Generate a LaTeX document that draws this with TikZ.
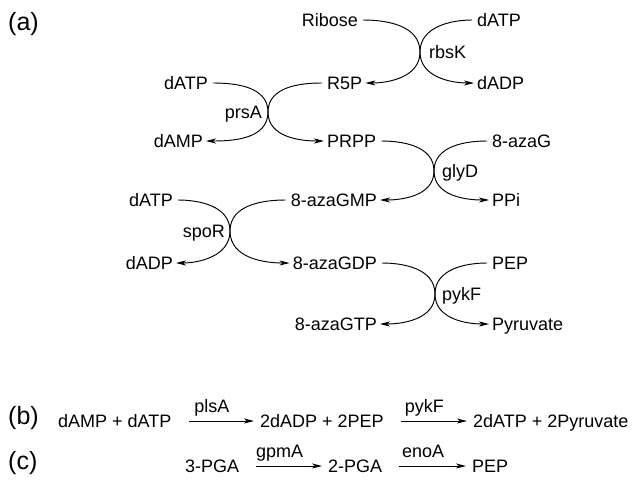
\documentclass[tikz,border=0pt]{standalone}
\usepackage{fontspec}
\setmainfont{Liberation Sans}
\usetikzlibrary{arrows.meta}

\begin{document}
\begin{tikzpicture}[x=1pt,y=1pt,
  chem/.style={inner sep=0pt, text height=12.9pt, text depth=0pt,
               font=\fontsize{18}{20}\selectfont},
  enz/.style={chem},
  panel/.style={inner sep=0pt, anchor=base west, font=\fontsize{25}{28}\selectfont},
  flow/.style={line width=0.95pt, -{Stealth[length=10pt,width=5pt,inset=2.8pt]},
               shorten <=5pt, shorten >=3pt},
  rxn/.style={line width=0.95pt, -{Stealth[length=10pt,width=5pt,inset=2.8pt]},
              shorten <=17pt, shorten >=6pt},
  over/.style={chem, anchor=south, yshift=8pt, xshift=-4pt},
]
\useasboundingbox (0,0) rectangle (635,-487);

% ---------- (a) coupled reaction cascade ----------
\node[panel] (pa) at (8,-31) {(a)};

% contact points of each pair of arcs
\coordinate (x1) at (420,-52);
\coordinate (x2) at (268,-112);
\coordinate (x3) at (434,-171);
\coordinate (x4) at (230,-231);
\coordinate (x5) at (435,-294);

% rbsK
\node[chem, anchor=east] (ribose) at (358,-20)  {Ribose};
\node[chem, anchor=west] (datp1)  at (477,-20)  {dATP};
\node[chem, anchor=west] (r5p)    at (327,-83)  {R5P};
\node[chem, anchor=west] (dadp1)  at (477,-83)  {dADP};
\node[enz,  anchor=west] (rbsk)   at (429,-52)  {rbsK};
\draw[flow] (ribose.east) to[out=0,in=90] (x1) to[out=-90,in=0] (r5p.east);
\draw[flow] (datp1.west) to[out=180,in=90] (x1) to[out=-90,in=180] (dadp1.west);

% prsA
\node[chem, anchor=east] (datp2)  at (208,-83)  {dATP};
\node[chem, anchor=east] (damp)   at (203,-141) {dAMP};
\node[chem, anchor=west] (prpp)   at (327,-141) {PRPP};
\node[enz,  anchor=east] (prsa)   at (262,-112) {prsA};
\draw[flow] (datp2.east) to[out=0,in=90] (x2) to[out=-90,in=0] (damp.east);
\draw[flow] (r5p.west) to[out=180,in=90] (x2) to[out=-90,in=180] (prpp.west);

% glyD
\node[chem, anchor=west] (azag)   at (492,-141) {8-azaG};
\node[chem, anchor=east] (azagmp) at (377,-200) {8-azaGMP};
\node[chem, anchor=west] (ppi)    at (492,-200) {PPi};
\node[enz,  anchor=west] (glyd)   at (442,-171) {glyD};
\draw[flow] (prpp.east) to[out=0,in=90] (x3) to[out=-90,in=0] (azagmp.east);
\draw[flow] (azag.west) to[out=180,in=90] (x3) to[out=-90,in=180] (ppi.west);

% spoR
\node[chem, anchor=east] (datp3)  at (173,-200) {dATP};
\node[chem, anchor=east] (dadp2)  at (173,-263) {dADP};
\node[chem, anchor=east] (azagdp) at (377,-263) {8-azaGDP};
\node[enz,  anchor=east] (spor)   at (225,-231) {spoR};
\draw[flow] (datp3.east) to[out=0,in=90] (x4) to[out=-90,in=0] (dadp2.east);
\draw[flow] (azagmp.west) to[out=180,in=90] (x4) to[out=-90,in=180] (azagdp.west);

% pykF
\node[chem, anchor=west] (pep)    at (492,-263) {PEP};
\node[chem, anchor=east] (azagtp) at (377,-324) {8-azaGTP};
\node[chem, anchor=west] (pyr)    at (492,-324) {Pyruvate};
\node[enz,  anchor=west] (pykf)   at (442,-294) {pykF};
\draw[flow] (azagdp.east) to[out=0,in=90] (x5) to[out=-90,in=0] (azagtp.east);
\draw[flow] (pep.west) to[out=180,in=90] (x5) to[out=-90,in=180] (pyr.west);

% ---------- (b) dATP regeneration ----------
\node[panel] (pb) at (8,-424) {(b)};
\node[chem, anchor=west] (b1) at (58,-421)  {dAMP + dATP};
\node[chem, anchor=west] (b2) at (260,-421) {2dADP + 2PEP};
\node[chem, anchor=west] (b3) at (473,-421) {2dATP + 2Pyruvate};
\draw[rxn] (b1.east) -- (b2.west) node[over, pos=0.5] {plsA};
\draw[rxn] (b2.east) -- (b3.west) node[over, pos=0.5] {pykF};

% ---------- (c) PEP supply ----------
\node[panel] (pc) at (8,-469) {(c)};
\node[chem, anchor=west] (c1) at (185,-466) {3-PGA};
\node[chem, anchor=west] (c2) at (328,-466) {2-PGA};
\node[chem, anchor=west] (c3) at (472,-466) {PEP};
\draw[rxn] (c1.east) -- (c2.west) node[over, pos=0.5] {gpmA};
\draw[rxn] (c2.east) -- (c3.west) node[over, pos=0.5] {enoA};
\end{tikzpicture}
\end{document}
